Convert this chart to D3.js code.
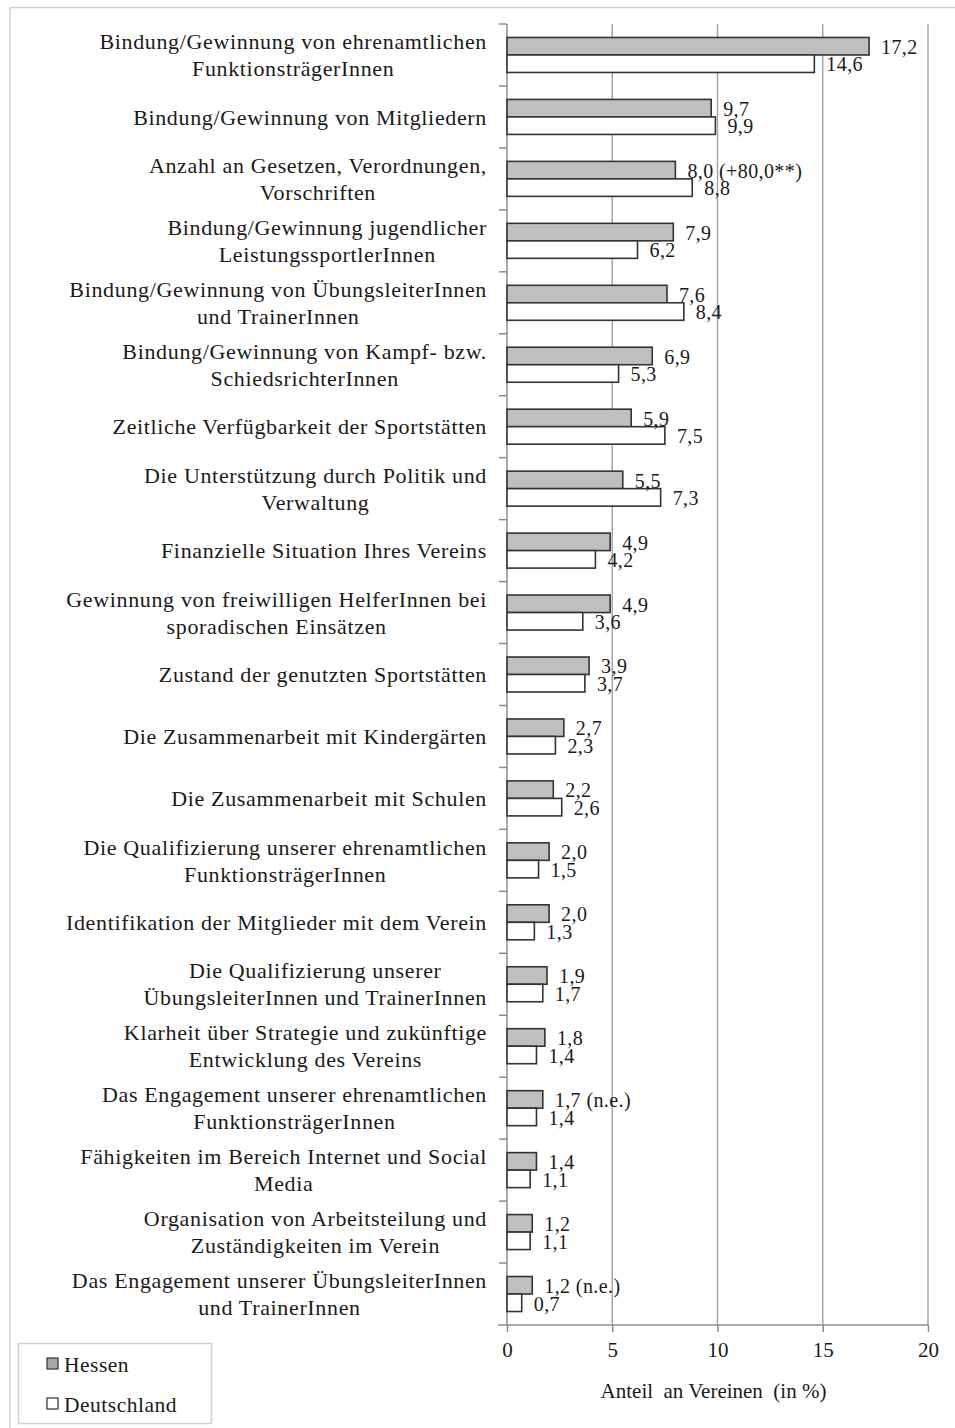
<!DOCTYPE html>
<html>
<head>
<meta charset="utf-8">
<script src="https://cdn.jsdelivr.net/npm/d3@7"></script>
<style>
  body { margin: 0; background: #fff; }
  svg text { font-family: "Liberation Serif", "Times New Roman", serif; fill: #1a1a1a; }
</style>
</head>
<body>
<div id="chart"></div>
<script>
// categories (line breaks as in the original)
const categories = [
  "Bindung/Gewinnung von ehrenamtlichen\nFunktionsträgerInnen",
  "Bindung/Gewinnung von Mitgliedern",
  "Anzahl an Gesetzen, Verordnungen,\nVorschriften",
  "Bindung/Gewinnung jugendlicher\nLeistungssportlerInnen",
  "Bindung/Gewinnung von ÜbungsleiterInnen\nund TrainerInnen",
  "Bindung/Gewinnung von Kampf- bzw.\nSchiedsrichterInnen",
  "Zeitliche Verfügbarkeit der Sportstätten",
  "Die Unterstützung durch Politik und\nVerwaltung",
  "Finanzielle Situation Ihres Vereins",
  "Gewinnung von freiwilligen HelferInnen bei\nsporadischen Einsätzen",
  "Zustand der genutzten Sportstätten",
  "Die Zusammenarbeit mit Kindergärten",
  "Die Zusammenarbeit mit Schulen",
  "Die Qualifizierung unserer ehrenamtlichen\nFunktionsträgerInnen",
  "Identifikation der Mitglieder mit dem Verein",
  "Die Qualifizierung unserer\nÜbungsleiterInnen und TrainerInnen",
  "Klarheit über Strategie und zukünftige\nEntwicklung des Vereins",
  "Das Engagement unserer ehrenamtlichen\nFunktionsträgerInnen",
  "Fähigkeiten im Bereich Internet und Social\nMedia",
  "Organisation von Arbeitsteilung und\nZuständigkeiten im Verein",
  "Das Engagement unserer ÜbungsleiterInnen\nund TrainerInnen"
];

const hessen = [17.2, 9.7, 8.0, 7.9, 7.6, 6.9, 5.9, 5.5, 4.9, 4.9, 3.9, 2.7, 2.2, 2.0, 2.0, 1.9, 1.8, 1.7, 1.4, 1.2, 1.2];
const deutschland = [14.6, 9.9, 8.8, 6.2, 8.4, 5.3, 7.5, 7.3, 4.2, 3.6, 3.7, 2.3, 2.6, 1.5, 1.3, 1.7, 1.4, 1.4, 1.1, 1.1, 0.7];
// extra notes behind the Hessen value
const hessenNotes = ["", "", "(+80,0**)", "", "", "", "", "", "", "", "", "", "", "", "", "", "", "(n.e.)", "", "", "(n.e.)"];

const seriesNames = ["Hessen", "Deutschland"];
const seriesFill = ["#bfbfbf", "#ffffff"];
const xTicks = [0, 5, 10, 15, 20];
const xTitle = "Anteil  an Vereinen  (in %)";

const W = 955, H = 1428;
const fmt = v => d3.format(".1f")(v).replace(".", ",");

const svg = d3.select("#chart").append("svg")
  .attr("width", W).attr("height", H);

// outer frame (top and left edges only visible)
svg.append("line").attr("x1", 10).attr("x2", W).attr("y1", 7.5).attr("y2", 7.5)
  .attr("stroke", "#cfcfcf").attr("stroke-width", 1.5);
svg.append("line").attr("x1", 10).attr("x2", 10).attr("y1", 7.5).attr("y2", H)
  .attr("stroke", "#cfcfcf").attr("stroke-width", 1.5);

const x = d3.scaleLinear().domain([0, 20]).range([507, 928]);
const y = d3.scaleBand().domain(d3.range(categories.length)).range([24, 1325]).padding(0);
const ySub = d3.scaleBand().domain([0, 1]).range([0, y.bandwidth()]).paddingInner(0).paddingOuter(0.77);

// gridlines
svg.append("g").selectAll("line")
  .data(xTicks.filter(t => t > 0))
  .enter().append("line")
  .attr("x1", d => x(d)).attr("x2", d => x(d))
  .attr("y1", 24).attr("y2", 1325)
  .attr("stroke", "#a6a6a6").attr("stroke-width", 1.5);

// x axis
const xAxis = svg.append("g")
  .attr("transform", "translate(0,1325)")
  .call(d3.axisBottom(x).tickValues(xTicks).tickSize(7).tickPadding(10).tickFormat(d3.format("d")));
xAxis.select(".domain").attr("d", `M498,0H${x(20)}`).attr("stroke", "#8c8c8c").attr("stroke-width", 1.5);
xAxis.selectAll(".tick line").attr("stroke", "#8c8c8c").attr("stroke-width", 1.5);
xAxis.selectAll(".tick text")
  .style("font-family", "Liberation Serif").style("font-size", "21px").attr("fill", "#1a1a1a");

// y axis line + boundary ticks
svg.append("line").attr("x1", 507).attr("x2", 507).attr("y1", 24).attr("y2", 1325)
  .attr("stroke", "#8c8c8c").attr("stroke-width", 1.5);
svg.append("g").selectAll("line")
  .data(d3.range(categories.length))
  .enter().append("line")
  .attr("x1", 499).attr("x2", 507)
  .attr("y1", d => y(d)).attr("y2", d => y(d))
  .attr("stroke", "#8c8c8c").attr("stroke-width", 1.5);

// bars
const rows = categories.map((c, i) => ({ i, values: [hessen[i], deutschland[i]] }));
const row = svg.append("g").selectAll("g")
  .data(rows).enter().append("g")
  .attr("transform", d => `translate(0,${y(d.i)})`);

row.selectAll("rect")
  .data(d => d.values.map((v, k) => ({ v, k })))
  .enter().append("rect")
  .attr("x", x(0))
  .attr("y", d => ySub(d.k))
  .attr("width", d => x(d.v) - x(0))
  .attr("height", ySub.bandwidth())
  .attr("fill", d => seriesFill[d.k])
  .attr("stroke", "#333")
  .attr("stroke-width", 1.6);

// value labels
row.selectAll("text.val")
  .data(d => d.values.map((v, k) => ({ v, k, note: k === 0 ? hessenNotes[d.i] : "" })))
  .enter().append("text")
  .attr("class", "val")
  .attr("x", d => x(d.v) + 12)
  .attr("y", d => ySub(d.k) + ySub.bandwidth() - 1)
  .style("font-size", "20px")
  .style("letter-spacing", "0.4px")
  .text(d => fmt(d.v) + (d.note ? " " + d.note : ""));

// category labels: block right-aligned, lines centred inside the block
const labelRight = 487;
const lab = svg.append("g").selectAll("g")
  .data(categories).enter().append("g");
lab.each(function (c, i) {
  const g = d3.select(this);
  const lines = c.split("\n");
  const cy = y(i) + y.bandwidth() / 2;
  const lh = 27;
  const texts = lines.map((t, j) => g.append("text")
    .style("font-size", "22px")
    .style("letter-spacing", "0.65px")
    .attr("y", cy + (j - (lines.length - 1) / 2) * lh)
    .attr("dy", "0.35em")
    .attr("text-anchor", "middle")
    .text(t));
  const maxW = d3.max(texts, t => t.node().getComputedTextLength());
  texts.forEach(t => t.attr("x", labelRight - maxW / 2));
});

// axis title
svg.append("text")
  .attr("x", x(10) - 4).attr("y", 1398)
  .attr("text-anchor", "middle")
  .style("font-size", "21px")
  .style("white-space", "pre")
  .text(xTitle);

// legend
const leg = svg.append("g");
leg.append("rect").attr("x", 18.5).attr("y", 1343.5).attr("width", 193).attr("height", 80)
  .attr("fill", "#fff").attr("stroke", "#d0d0d0").attr("stroke-width", 1.5);
seriesNames.forEach((s, k) => {
  const ly = 1364 + k * 40;
  leg.append("rect").attr("x", 47).attr("y", ly - 6).attr("width", 11).attr("height", 11)
    .attr("fill", k === 0 ? "#a6a6a6" : "#fff").attr("stroke", "#404040").attr("stroke-width", 1.3);
  leg.append("text").attr("x", 64).attr("y", ly).attr("dy", "0.35em")
    .style("font-size", "21.5px").style("letter-spacing", "0.5px").text(s);
});
</script>
</body>
</html>
